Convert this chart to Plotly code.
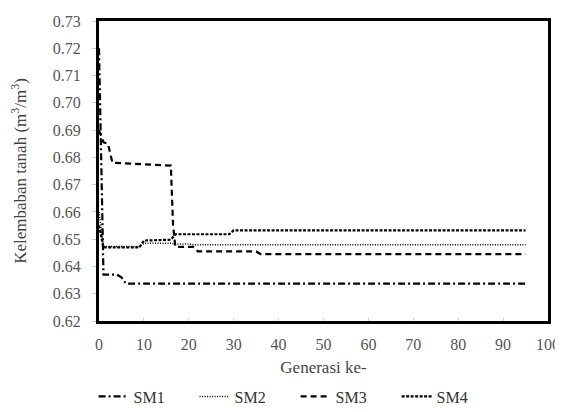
import plotly.graph_objects as go

# Data (generation, soil moisture m3/m3)
sm1_x = [0, 1, 4, 5, 6, 95]
sm1_y = [0.720, 0.637, 0.637, 0.636, 0.6337, 0.6337]

sm2_x = [0, 1, 9, 10, 16, 17, 20, 21, 95]
sm2_y = [0.660, 0.6473, 0.6473, 0.6485, 0.6485, 0.6482, 0.6482, 0.648, 0.648]

sm3_x = [0, 1, 2, 3, 16, 16.5, 17, 21, 22, 35, 36, 95]
sm3_y = [0.690, 0.6855, 0.685, 0.678, 0.677, 0.655, 0.6472, 0.6472, 0.6455, 0.6455, 0.6445, 0.6445]

sm4_x = [0, 1, 9, 10, 16, 17, 29, 30, 95]
sm4_y = [0.655, 0.647, 0.647, 0.6495, 0.6498, 0.6518, 0.6518, 0.6532, 0.6532]

series_names = ["SM1", "SM2", "SM3", "SM4"]
y_ticks = [0.62, 0.63, 0.64, 0.65, 0.66, 0.67, 0.68, 0.69, 0.70, 0.71, 0.72, 0.73]
x_ticks = [0, 10, 20, 30, 40, 50, 60, 70, 80, 90, 100]

FONT = "Liberation Serif"
dashes = ["7px,3px,2px,3px", "1px,1.5px", "6px,4px", "3px,1.5px"]
widths = [2.2, 1.5, 2.2, 2.2]

fig = go.Figure()
for name, xs, ys, d, w in zip(series_names,
                              [sm1_x, sm2_x, sm3_x, sm4_x],
                              [sm1_y, sm2_y, sm3_y, sm4_y], dashes, widths):
    fig.add_trace(go.Scatter(x=xs, y=ys, mode="lines", name=name,
                             line=dict(color="black", width=w, dash=d)))

fig.update_layout(
    width=555, height=404,
    margin=dict(l=91, r=15, t=13, b=91, autoexpand=False),
    plot_bgcolor="white", paper_bgcolor="white",
    font=dict(family=FONT, size=15, color="#444"),
    showlegend=True,
    legend=dict(orientation="h", x=-0.012, xanchor="left", y=-0.195, yanchor="top",
                font=dict(family=FONT, size=16, color="#333"),
                itemwidth=30, entrywidth=56, entrywidthmode="pixels",
                tracegroupgap=0, bgcolor="rgba(0,0,0,0)"),
    xaxis=dict(range=[0, 100], tickvals=x_ticks, showgrid=False, zeroline=False,
               automargin=False,
               showline=True, linecolor="black", linewidth=3, mirror=True,
               ticks="inside", ticklen=3, tickcolor="#ccc", ticklabelstandoff=7,
               tickfont=dict(family=FONT, size=16, color="#555"),
               title=dict(text="Generasi ke-", font=dict(family=FONT, size=17, color="#444"), standoff=9)),
    yaxis=dict(range=[0.62, 0.73], tickvals=y_ticks, tickformat=".2f", showgrid=False,
               automargin=False,
               zeroline=False, showline=True, linecolor="black", linewidth=3, mirror=True,
               ticks="outside", ticklen=4, tickcolor="#ccc", ticklabelstandoff=8,
               tickfont=dict(family=FONT, size=16, color="#555"),
               title=dict(text="Kelembaban tanah (m<sup>3</sup>/m<sup>3</sup>)",
                          font=dict(family=FONT, size=17, color="#444"), standoff=24)),
)

fig.write_html("out.html")
